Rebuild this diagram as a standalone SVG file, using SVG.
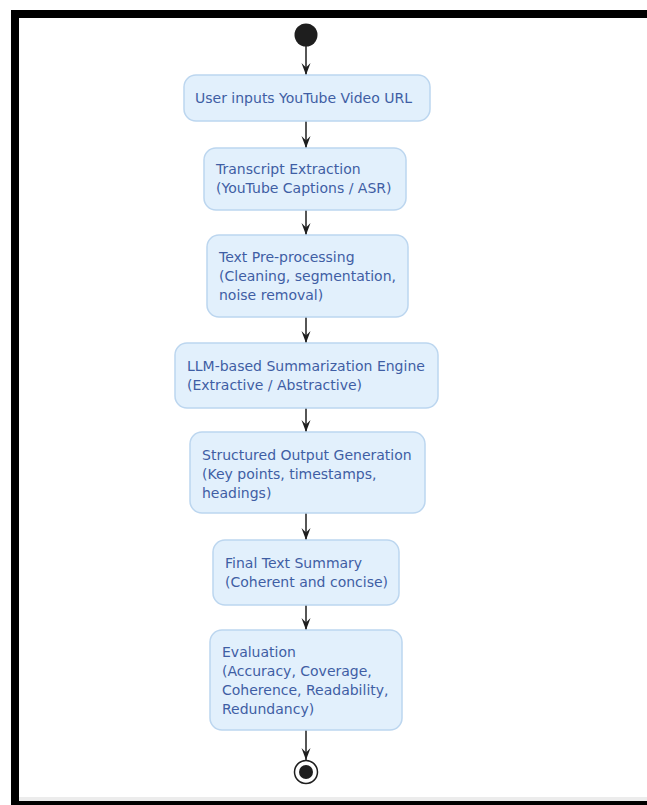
<svg xmlns="http://www.w3.org/2000/svg" width="647" height="805" viewBox="0 0 647 805">
<defs>
<style>
.box{fill:#e2f0fc;stroke:#bcd6ef;stroke-width:1.5}
.t{font-family:"DejaVu Sans","Liberation Sans",sans-serif;font-size:14px;fill:#3f5ea4}
.ln{stroke:#1e1e1e;stroke-width:1.5;fill:none}
</style>
<marker id="ah" viewBox="0 0 12 10" markerWidth="12" markerHeight="10" refX="12" refY="5" orient="auto" markerUnits="userSpaceOnUse">
<path d="M0,0.5 L12,5 L0,9.5 L4.5,5 Z" fill="#1e1e1e"/>
</marker>
</defs>
<rect width="647" height="805" fill="#fff"/>
<g id="frame">
<rect x="11" y="10" width="636" height="8" fill="#000"/>
<rect x="11" y="10" width="8" height="795" fill="#000"/>
<rect x="19" y="797" width="628" height="4" fill="#ececec"/>
<rect x="11" y="801" width="636" height="4" fill="#000"/>
</g>
<g id="connectors">
<line class="ln" x1="306" y1="46" x2="306" y2="75" marker-end="url(#ah)"/>
<line class="ln" x1="306" y1="121" x2="306" y2="148" marker-end="url(#ah)"/>
<line class="ln" x1="306" y1="210" x2="306" y2="235" marker-end="url(#ah)"/>
<line class="ln" x1="306" y1="317" x2="306" y2="343" marker-end="url(#ah)"/>
<line class="ln" x1="306" y1="408" x2="306" y2="432" marker-end="url(#ah)"/>
<line class="ln" x1="306" y1="513" x2="306" y2="540" marker-end="url(#ah)"/>
<line class="ln" x1="306" y1="605" x2="306" y2="630" marker-end="url(#ah)"/>
<line class="ln" x1="306" y1="730" x2="306" y2="760" marker-end="url(#ah)"/>
</g>
<g id="start">
<circle cx="306" cy="35" r="11.5" fill="#1e1e1e"/>
</g>
<g id="n1">
<rect class="box" x="184" y="75" width="246" height="46" rx="12"/>
<text class="t" x="195" y="103">User inputs YouTube Video URL</text>
</g>
<g id="n2">
<rect class="box" x="204" y="148" width="202" height="62" rx="12"/>
<text class="t" x="216" y="174">Transcript Extraction</text>
<text class="t" x="216" y="193">(YouTube Captions / ASR)</text>
</g>
<g id="n3">
<rect class="box" x="207" y="235" width="201" height="82" rx="12"/>
<text class="t" x="219" y="262">Text Pre-processing</text>
<text class="t" x="219" y="281">(Cleaning, segmentation,</text>
<text class="t" x="219" y="300">noise removal)</text>
</g>
<g id="n4">
<rect class="box" x="175" y="343" width="263" height="65" rx="12"/>
<text class="t" x="187" y="371">LLM-based Summarization Engine</text>
<text class="t" x="187" y="390">(Extractive / Abstractive)</text>
</g>
<g id="n5">
<rect class="box" x="190" y="432" width="235" height="81" rx="12"/>
<text class="t" x="202" y="460">Structured Output Generation</text>
<text class="t" x="202" y="479">(Key points, timestamps,</text>
<text class="t" x="202" y="498">headings)</text>
</g>
<g id="n6">
<rect class="box" x="213" y="540" width="186" height="65" rx="12"/>
<text class="t" x="225" y="568">Final Text Summary</text>
<text class="t" x="225" y="587">(Coherent and concise)</text>
</g>
<g id="n7">
<rect class="box" x="210" y="630" width="192" height="100" rx="12"/>
<text class="t" x="222" y="657">Evaluation</text>
<text class="t" x="222" y="676">(Accuracy, Coverage,</text>
<text class="t" x="222" y="695">Coherence, Readability,</text>
<text class="t" x="222" y="714">Redundancy)</text>
</g>
<g id="end">
<circle cx="306" cy="772" r="11.5" fill="#fff" stroke="#1e1e1e" stroke-width="1.5"/>
<circle cx="306" cy="772" r="7" fill="#1e1e1e"/>
</g>
</svg>
